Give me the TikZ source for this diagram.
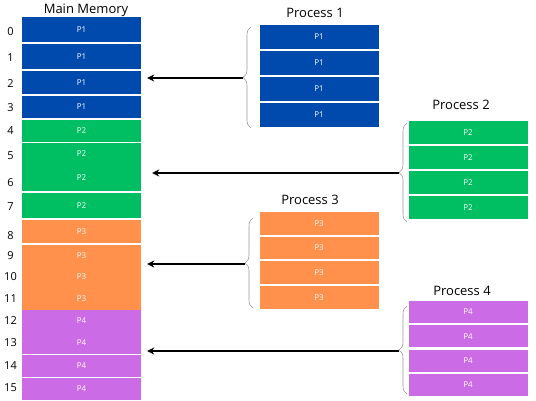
\documentclass[tikz,border=0pt]{standalone}
\usepackage{fontspec}
\setmainfont{Open Sans}
\usetikzlibrary{arrows.meta, decorations.pathreplacing}
\definecolor{pblue}{HTML}{004AAD}
\definecolor{pgreen}{HTML}{00BF63}
\definecolor{porange}{HTML}{FF914D}
\definecolor{ppurple}{HTML}{CB6CE6}

\begin{document}
\begin{tikzpicture}[x=1pt, y=-1pt,
    cell/.style={inner sep=0pt, minimum width=119pt, text=white, font=\fontsize{8}{9}\selectfont},
    title/.style={font=\fontsize{13}{15}\selectfont},
    idx/.style={font=\fontsize{11}{13}\selectfont},
    curly/.style={decorate, decoration={brace, amplitude=8pt}, draw=gray!80, line width=0.6pt},
    link/.style={-{Stealth[length=7pt,width=7pt]}, line width=1.4pt}]
        \useasboundingbox (0,0) rectangle (536,400);

        % Main memory
        \node[title] (mtitle) at (86,10) {Main Memory};
        \foreach \i/\t/\b/\c/\p/\ly in {0/17/42/pblue/P1/32, 1/44/69/pblue/P1/58,
            2/71/94/pblue/P1/84, 3/96/118/pblue/P1/108, 4/120/142/pgreen/P2/131,
            5/143/165/pgreen/P2/156, 6/165/191/pgreen/P2/183, 7/193/218/pgreen/P2/207,
            8/220/243/porange/P3/236, 9/245/266/porange/P3/256, 10/266/288/porange/P3/277,
            11/288/310/porange/P3/299, 12/310/332/ppurple/P4/321, 13/332/354/ppurple/P4/343,
            14/355/377/ppurple/P4/366, 15/378/400/ppurple/P4/388} {
            \node[cell, fill=\c, minimum height={(\b-\t)*1pt}] (m\i) at (81.5,{(\t+\b)/2}) {\p};
            \node[idx] (n\i) at (10.5,\ly) {\i};
        }

        % Processes
        \foreach \k/\x/\tx/\ty/\top/\pitch/\h/\c in {1/319/315/13/25/26/24/pblue,
            2/468/461/105/121/25/23/pgreen, 3/319/310/200/212/24.7/22.5/porange,
            4/468/462/291/301/24.3/22/ppurple} {
            \node[title] (t\k) at (\tx,\ty) {Process \k};
            \foreach \j in {0,...,3}
                \node[cell, fill=\c, minimum height=\h pt] (p\k\j) at (\x,{\top+\j*\pitch+\h/2}) {P\k};
        }

        % Braces
        \draw[curly] (251,128) -- (251,27);
        \draw[curly] (407,222) -- (407,123);
        \draw[curly] (253,308) -- (253,218);
        \draw[curly] (407,394) -- (407,306);
        \coordinate (b1) at (243,78);
        \coordinate (b2) at (399,173);
        \coordinate (b3) at (245,264);
        \coordinate (b4) at (399,351);

        % Arrows
        \draw[link, shorten >=6pt] (b1) -- (b1 -| m2.east);
        \draw[link, shorten >=11pt] (b2) -- (b2 -| m6.east);
        \draw[link, shorten >=6pt] (b3) -- (b3 -| m9.east);
        \draw[link, shorten >=6pt] (b4) -- (b4 -| m13.east);
\end{tikzpicture}
\end{document}
